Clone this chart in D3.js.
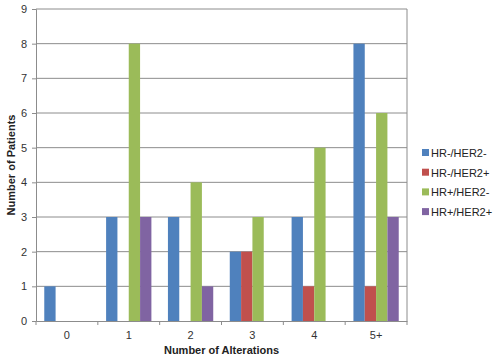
<!DOCTYPE html>
<html>
<head>
<meta charset="utf-8">
<script src="https://cdn.jsdelivr.net/npm/d3@7"></script>
<style>
body { margin:0; background:#fff; }
text { font-family: "Liberation Sans", Arial, sans-serif; }
</style>
</head>
<body>
<div id="chart"></div>
<script>
// data
const categories = ["0", "1", "2", "3", "4", "5+"];
const seriesNames = ["HR-/HER2-", "HR-/HER2+", "HR+/HER2-", "HR+/HER2+"];
const hrNegHer2Neg = [1, 3, 3, 2, 3, 8];
const hrNegHer2Pos = [0, 0, 0, 2, 1, 1];
const hrPosHer2Neg = [0, 8, 4, 3, 5, 6];
const hrPosHer2Pos = [0, 3, 1, 0, 0, 3];
const yTicks = [0, 1, 2, 3, 4, 5, 6, 7, 8, 9];
const colors = ["#4F81BD", "#C0504D", "#9BBB59", "#8064A2"];

const series = [hrNegHer2Neg, hrNegHer2Pos, hrPosHer2Neg, hrPosHer2Pos];

const width = 500, height = 359;
const margin = {top: 9, right: 93, bottom: 38, left: 36};

const svg = d3.select("#chart").append("svg")
	.attr("width", width)
	.attr("height", height);

const x = d3.scaleBand()
	.domain(categories)
	.range([margin.left, width - margin.right]);

const xs = d3.scaleBand()
	.domain(d3.range(seriesNames.length))
	.range([0, x.bandwidth()])
	.paddingInner(0)
	.paddingOuter(0.73);

const y = d3.scaleLinear()
	.domain([0, 9])
	.range([height - margin.bottom, margin.top]);

/* gridlines */
svg.append("g")
	.selectAll("line")
	.data(yTicks.slice(1))
	.join("line")
	.attr("x1", margin.left)
	.attr("x2", width - margin.right)
	.attr("y1", d => y(d))
	.attr("y2", d => y(d))
	.attr("stroke", "#8c8c8c")
	.attr("stroke-width", 1);

// right border of plot area
svg.append("line")
	.attr("x1", width - margin.right).attr("x2", width - margin.right)
	.attr("y1", margin.top).attr("y2", height - margin.bottom)
	.attr("stroke", "#8c8c8c");

/* bars */
const groups = svg.append("g")
	.selectAll("g")
	.data(series)
	.join("g")
	.attr("fill", (d, i) => colors[i]);

groups.each(function(vals, si) {
	d3.select(this).selectAll("rect")
		.data(vals)
		.join("rect")
		.attr("x", (d, ci) => x(categories[ci]) + xs(si))
		.attr("width", xs.bandwidth())
		.attr("y", d => y(d))
		.attr("height", d => y(0) - y(d));
});

/* axes */
const yAxis = svg.append("g")
	.attr("transform", `translate(${margin.left},0)`)
	.call(d3.axisLeft(y).tickValues(yTicks).tickSize(4).tickPadding(5).tickFormat(d3.format("d")));

const xAxis = svg.append("g")
	.attr("transform", `translate(0,${y(0)})`)
	.call(d3.axisBottom(x).tickSize(0).tickPadding(10));

// category separator ticks
svg.append("g")
	.selectAll("line")
	.data(d3.range(categories.length + 1))
	.join("line")
	.attr("x1", i => margin.left + i * x.step())
	.attr("x2", i => margin.left + i * x.step())
	.attr("y1", y(0))
	.attr("y2", y(0) + 4)
	.attr("stroke", "#8c8c8c");

[yAxis, xAxis].forEach(a => {
	a.selectAll(".domain").attr("stroke", "#8c8c8c");
	a.selectAll(".tick line").attr("stroke", "#8c8c8c");
	a.selectAll("text")
		.attr("fill", "#333")
		.style("font-size", "11px")
		.style("font-family", "'Liberation Sans', Arial, sans-serif");
});

/* titles */
svg.append("text")
	.attr("x", (margin.left + width - margin.right) / 2)
	.attr("y", 354)
	.attr("text-anchor", "middle")
	.style("font-size", "11px")
	.style("font-weight", "bold")
	.attr("fill", "#222")
	.text("Number of Alterations");

svg.append("text")
	.attr("transform", `translate(15,${(margin.top + height - margin.bottom) / 2}) rotate(-90)`)
	.attr("text-anchor", "middle")
	.style("font-size", "11px")
	.style("font-weight", "bold")
	.attr("fill", "#222")
	.text("Number of Patients");

/* legend */
const legend = svg.append("g")
	.selectAll("g")
	.data(seriesNames)
	.join("g")
	.attr("transform", (d, i) => `translate(422,${153 + i * 19.7})`);

legend.append("rect")
	.attr("x", 0).attr("y", -4)
	.attr("width", 7).attr("height", 7)
	.attr("fill", (d, i) => colors[i]);

legend.append("text")
	.attr("x", 9).attr("y", 4)
	.style("font-size", "11px")
	.attr("fill", "#222")
	.text(d => d);
</script>
</body>
</html>
